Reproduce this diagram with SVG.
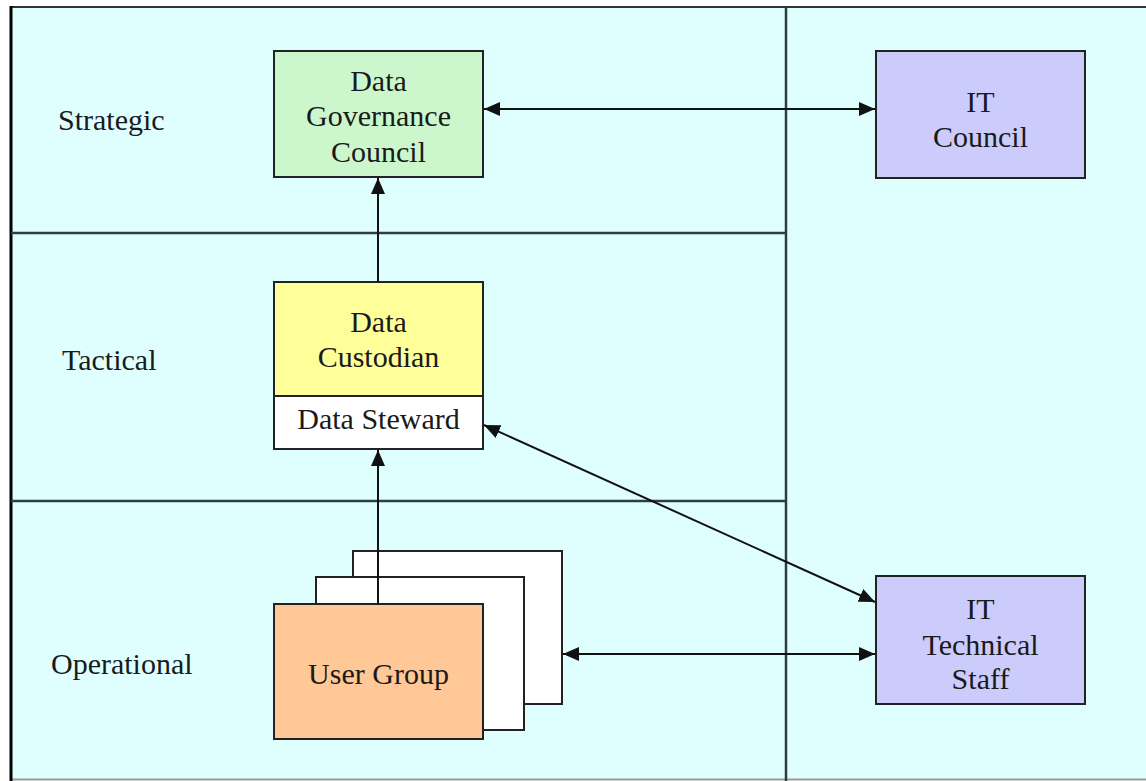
<svg xmlns="http://www.w3.org/2000/svg" width="1146" height="781" viewBox="0 0 1146 781">
  <defs>
    <marker id="arrow" viewBox="0 0 16 14" refX="16" refY="7" markerWidth="16" markerHeight="14" markerUnits="userSpaceOnUse" orient="auto-start-reverse">
      <path d="M0,0 L16,7 L0,14 Z" fill="#111"/>
    </marker>
    <style>
      .lane { fill: #dfffff; }
      .divider { stroke: #2e3e3e; stroke-width: 2.5; fill: none; }
      .box { stroke: #222; stroke-width: 2; }
      .label { font-family: "Liberation Serif", "Times New Roman", serif; font-size: 30px; fill: #1a1a1a; }
      .node-text { font-family: "Liberation Serif", "Times New Roman", serif; font-size: 30px; text-anchor: middle; fill: #1a1a1a; }
      .link { stroke: #111; stroke-width: 2; fill: none; }
    </style>
  </defs>

  <!-- page background and frame -->
  <rect x="0" y="0" width="1146" height="781" fill="#ffffff"/>
  <rect class="lane" x="11" y="7" width="1140" height="772"/>
  <line x1="11" y1="7" x2="1146" y2="7" stroke="#333" stroke-width="2"/>
  <line x1="11" y1="779.5" x2="1146" y2="779.5" stroke="#999" stroke-width="2"/>
  <line x1="11" y1="6" x2="11" y2="781" stroke="#000" stroke-width="3"/>

  <!-- level dividers -->
  <g id="levels">
    <line class="divider" x1="11" y1="233" x2="786" y2="233"/>
    <line class="divider" x1="11" y1="501" x2="786" y2="501"/>
    <line class="divider" x1="786" y1="7" x2="786" y2="781"/>
    <text class="label" x="58" y="130">Strategic</text>
    <text class="label" x="62" y="370">Tactical</text>
    <text class="label" x="51" y="674">Operational</text>
  </g>

  <g id="data-governance-council">
    <rect class="box" x="274" y="51" width="209" height="126" fill="#ccf7cc"/>
    <text class="node-text" x="378.5" y="91">Data</text>
    <text class="node-text" x="378.5" y="126">Governance</text>
    <text class="node-text" x="378.5" y="162">Council</text>
  </g>

  <g id="it-council">
    <rect class="box" x="876" y="51" width="209" height="127" fill="#ccccfc"/>
    <text class="node-text" x="980.5" y="112">IT</text>
    <text class="node-text" x="980.5" y="147">Council</text>
  </g>

  <g id="data-custodian">
    <rect class="box" x="274" y="282" width="209" height="114" fill="#ffff99"/>
    <text class="node-text" x="378.5" y="332">Data</text>
    <text class="node-text" x="378.5" y="367">Custodian</text>
  </g>

  <g id="data-steward">
    <rect class="box" x="274" y="396" width="209" height="53" fill="#ffffff"/>
    <text class="node-text" x="378.5" y="429">Data Steward</text>
  </g>

  <g id="user-group">
    <rect class="box" x="353" y="551" width="209" height="153" fill="#ffffff"/>
    <rect class="box" x="316" y="577" width="208" height="153" fill="#ffffff"/>
    <rect class="box" x="274" y="604" width="209" height="135" fill="#ffc896"/>
    <text class="node-text" x="378.5" y="684">User Group</text>
  </g>

  <g id="it-technical-staff">
    <rect class="box" x="876" y="576" width="209" height="128" fill="#ccccfc"/>
    <text class="node-text" x="980.5" y="619">IT</text>
    <text class="node-text" x="980.5" y="655">Technical</text>
    <text class="node-text" x="980.5" y="689">Staff</text>
  </g>

  <g id="connectors">
    <line class="link" x1="484" y1="109" x2="875" y2="109" marker-start="url(#arrow)" marker-end="url(#arrow)"/>
    <line class="link" x1="378" y1="282" x2="378" y2="178" marker-end="url(#arrow)"/>
    <line class="link" x1="378" y1="604" x2="378" y2="450" marker-end="url(#arrow)"/>
    <line class="link" x1="484" y1="425" x2="875" y2="602" marker-start="url(#arrow)" marker-end="url(#arrow)"/>
    <line class="link" x1="563" y1="654" x2="875" y2="654" marker-start="url(#arrow)" marker-end="url(#arrow)"/>
  </g>
</svg>
